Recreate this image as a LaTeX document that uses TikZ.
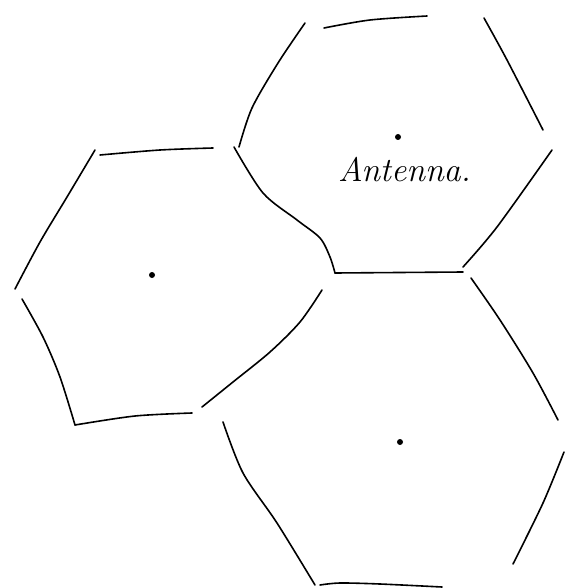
\documentclass[tikz,border=0pt]{standalone}
\usepackage{tikz}
\usetikzlibrary{positioning}
\tikzset{
	cellwall/.style={line width=1.6pt, line cap=round, line join=round},
	antdot/.style  ={circle, fill=black, inner sep=0pt, minimum size=6pt},
	% label of the antenna
	antlabel/.style={font=\fontsize{34}{34}\selectfont\itshape, inner sep=0pt, anchor=base west},
}
\begin{document}
\begin{tikzpicture}[x=1pt, y=-1pt]
	\useasboundingbox (0,0) rectangle (566,588);
	% top cell
	\draw[cellwall] plot[smooth, tension=0.5] coordinates {(324,28) (370,20) (427,16)};
	\draw[cellwall] plot[smooth, tension=0.5] coordinates {(305,23) (278,63) (252,108) (239,147)};
	\draw[cellwall] plot[smooth, tension=0.5] coordinates {(234,147) (263,193) (297,220) (320,238) (330,257) (335,273)};
	\draw[cellwall] (335,273) -- (463,272);
	\draw[cellwall] plot[smooth, tension=0.5] coordinates {(463,267) (497,227) (552,150)};
	\draw[cellwall] plot[smooth, tension=0.5] coordinates {(484,18) (507,60) (543,130)};
	\node[antdot] (dtop) at (398,137) {};
	\node[antlabel] (antname) at (338,182) {Antenna.};
	% left cell
	\draw[cellwall] plot[smooth, tension=0.5] coordinates {(100,155) (160,150) (213,148)};
	\draw[cellwall] plot[smooth, tension=0.5] coordinates {(95,150) (67,197) (40,242) (15,289)};
	\draw[cellwall] plot[smooth, tension=0.5] coordinates {(22,299) (43,337) (60,377) (75,425)};
	\draw[cellwall] plot[smooth, tension=0.5] coordinates {(75,425) (135,416) (192,413)};
	\draw[cellwall] plot[smooth, tension=0.5] coordinates {(202,407) (233,382) (270,352) (300,322) (322,290)};
	\node[antdot] (dleft) at (152,275) {};
	% bottom cell
	\draw[cellwall] plot[smooth, tension=0.5] coordinates {(471,278) (500,320) (533,373) (558,420)};
	\draw[cellwall] plot[smooth, tension=0.5] coordinates {(564,452) (543,503) (513,564)};
	\draw[cellwall] plot[smooth, tension=0.5] coordinates {(320,585) (340,583) (380,584) (442,587)};
	\draw[cellwall] plot[smooth, tension=0.5] coordinates {(223,422) (243,473) (277,523) (315,585)};
	\node[antdot] (dbottom) at (400,442) {};
\end{tikzpicture}
\end{document}
